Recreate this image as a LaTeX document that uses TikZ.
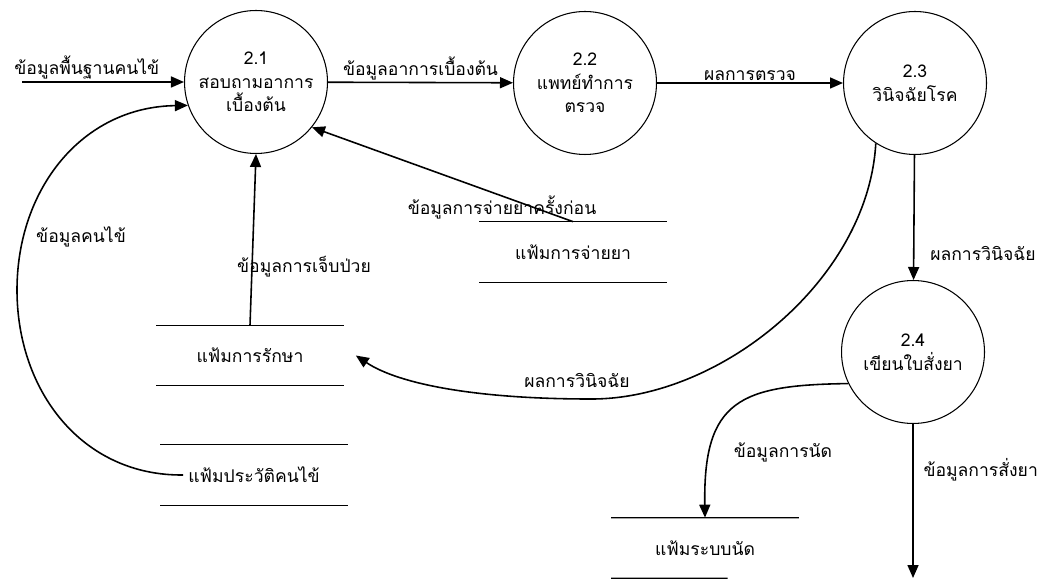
\documentclass[tikz,border=0pt]{standalone}
\usepackage{fontspec}
\newfontfamily\thaifont[Script=Thai]{Loma}
\usetikzlibrary{arrows.meta, positioning, calc}

\begin{document}
\begin{tikzpicture}[x=0.02cm, y=-0.02cm, >={Triangle[length=2.6mm, width=2.2mm]},
  font=\thaifont\fontsize{10}{13.5}\selectfont,
  process/.style={circle, draw, line width=0.6pt, minimum size=2.86cm, inner sep=0pt, align=center},
  store/.style={minimum width=3.74cm, minimum height=1.2cm, inner sep=0pt},
  storeline/.style={line width=0.7pt},
  flow/.style={->, line width=0.9pt},
  lbl/.style={inner sep=1pt}]
  \useasboundingbox (0,0) rectangle (1053,580);
  % Processes
  \node[process] (p21) at (256,82) {2.1\\สอบถามอาการ\\เบื้องต้น};
  \node[process] (p22) at (585,83) {2.2\\แพทย์ทำการ\\ตรวจ};
  \node[process] (p23) at (915,83) {2.3\\วินิจฉัยโรค};
  \node[process] (p24) at (913,352) {2.4\\เขียนใบสั่งยา};
  % Data stores
  \node[store] (f1) at (250,355.5) {แฟ้มการรักษา};
  \node[store] (f2) at (254,475) {แฟ้มประวัติคนไข้};
  \node[store] (f3) at (573,252) {แฟ้มการจ่ายยา};
  \node[store] (f4) at (705,548) {แฟ้มระบบนัด};
  \foreach \f in {f1,f2,f3}
    \draw[storeline] (\f.north west) -- (\f.north east) (\f.south west) -- (\f.south east);
  \draw[storeline] (f4.north west) -- (f4.north east) (f4.south west) -- ($(f4.south west)!0.62!(f4.south east)$);
  % Flows along the top
  \coordinate (src) at (22,82);
  \draw[flow] (src) -- node[lbl, above, pos=0.4] (l0) {ข้อมูลพื้นฐานคนไข้} (p21);
  \draw[flow] (p21) -- node[lbl, above] (l1) {ข้อมูลอาการเบื้องต้น} (p22);
  \draw[flow] (p22) -- node[lbl, above] (l2) {ผลการตรวจ} (p23);
  \draw[flow] (p23) -- node[lbl, right, pos=0.79, xshift=0.28cm] (l3) {ผลการวินิจฉัย} (p24);
  % Out of 2.4
  \coordinate (sink) at (913,578);
  \draw[flow] (p24) -- node[lbl, right, pos=0.3, xshift=0.16cm] (l4) {ข้อมูลการสั่งยา} (sink);
  \draw[flow] (p24.206) .. controls (740,385) and (703,400) .. (f4.north);
  \node[lbl] (l5) at (783,452) {ข้อมูลการนัด};
  % 2.3 to treatment file
  \draw[flow] (p23.237) .. controls (868,280) and (720,400) .. (590,399)
    .. controls (480,399) and (400,385) .. ([xshift=0.24cm]f1.east);
  \node[lbl] (l6) at (577,380) {ผลการวินิจฉัย};
  % Files back to 2.1
  \draw[flow] (f1.north) -- (p21.south);
  \node[lbl] (l7) at (304,267) {ข้อมูลการเจ็บป่วย};
  \draw[flow] (f3.north) -- (p21.321);
  \node[lbl] (l8) at (502,207) {ข้อมูลการจ่ายยาครั้งก่อน};
  \draw[flow] ([xshift=0.46cm]f2.west) .. controls (82,476) and (17,391) .. (17,290)
    .. controls (17,189) and (82,107) .. (p21.199);
  \node[lbl] (l9) at (81,237) {ข้อมูลคนไข้};
\end{tikzpicture}
\end{document}
